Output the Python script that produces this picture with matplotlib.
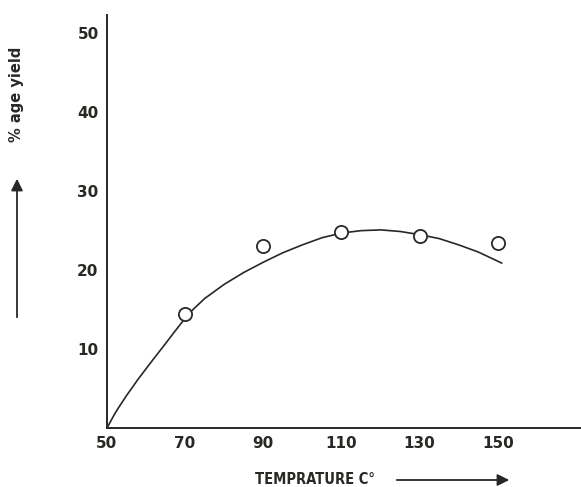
import matplotlib.pyplot as plt

# measured yields (open circles)
temp = [70, 90, 110, 130, 150]
yield_pct = [14.4, 23.0, 24.8, 24.3, 23.5]

# hand-drawn fitted curve
curve_t = [50, 51, 52, 53, 55, 57, 58, 60, 62, 65, 67, 70, 72, 75, 80, 85, 90,
           95, 100, 105, 110, 115, 120, 125, 130, 135, 140, 145, 151]
curve_y = [0, 0.9, 1.8, 2.6, 4.1, 5.5, 6.2, 7.5, 8.8, 10.7, 12.0, 13.9, 15.0,
           16.4, 18.2, 19.7, 21.0, 22.2, 23.2, 24.1, 24.7, 25.0, 25.1, 24.9,
           24.5, 24.0, 23.2, 22.3, 20.9]

xticks = [50, 70, 90, 110, 130, 150]
yticks = [10, 20, 30, 40, 50]

ink = '#262924'

fig = plt.figure(figsize=(5.81, 4.87), dpi=100)
ax = fig.add_axes([0.184, 0.121, 0.816, 0.848])

ax.plot(curve_t, curve_y, color=ink, lw=1.2, zorder=2)
ax.plot(temp, yield_pct, 'o', ms=9.5, mfc='white', mec=ink, mew=1.3, zorder=3)

ax.set_xlim(50, 171.3)
ax.set_ylim(0, 52.3)
ax.set_xticks(xticks)
ax.set_yticks(yticks)
ax.tick_params(length=0, labelsize=11, colors=ink, pad=6)
for lab in ax.get_xticklabels() + ax.get_yticklabels():
    lab.set_fontweight('bold')

for side in ['top', 'right']:
    ax.spines[side].set_visible(False)
for side in ['left', 'bottom']:
    ax.spines[side].set_color(ink)
    ax.spines[side].set_linewidth(1.4)

# axis titles with hand-drawn arrows
fig.text(17 / 581, 1 - 94 / 487, '% age yield', rotation=90, ha='center', va='center',
         fontsize=10.5, fontweight='bold', color=ink)
fig.add_artist(plt.matplotlib.patches.FancyArrowPatch(
    (17 / 581, 1 - 320 / 487), (17 / 581, 1 - 176 / 487), transform=fig.transFigure,
    arrowstyle='-|>,head_length=7,head_width=3.5', color=ink, lw=1.3))

fig.text(315 / 581, 1 - 480 / 487, 'TEMPRATURE C°', ha='center', va='center',
         fontsize=10.5, fontweight='bold', color=ink, fontstretch='condensed')
fig.add_artist(plt.matplotlib.patches.FancyArrowPatch(
    (394 / 581, 1 - 480 / 487), (512 / 581, 1 - 480 / 487), transform=fig.transFigure,
    arrowstyle='-|>,head_length=7,head_width=3.5', color=ink, lw=1.3))

plt.savefig('out.png', dpi=100, facecolor='white')
